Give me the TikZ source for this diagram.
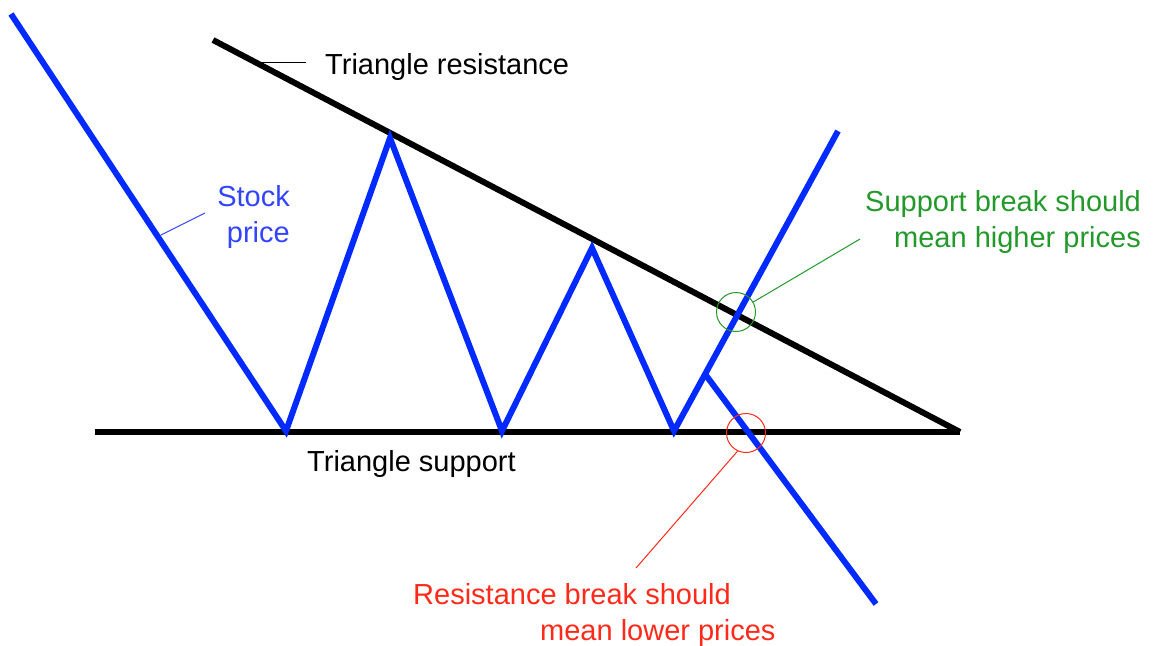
\documentclass[tikz,border=0pt]{standalone}
\usepackage{fontspec}
\setmainfont{Liberation Sans}
\begin{document}
\definecolor{priceblue}{RGB}{0,42,255}
\definecolor{textblue}{RGB}{51,68,255}
\definecolor{breakgreen}{RGB}{34,153,42}
\definecolor{breakred}{RGB}{255,42,26}
\tikzset{
  trendline/.style={line width=6pt, black},
  pricelinestyle/.style={line width=6pt, priceblue, line join=miter},
  leader/.style={line width=1pt},
  lbl/.style={inner sep=0pt, font=\fontsize{29}{36}\selectfont},
  ring/.style={circle, draw, line width=1pt, inner sep=0pt, minimum size=39pt},
}
\begin{tikzpicture}[x=1pt,y=-1pt]
\useasboundingbox (0,0) rectangle (1153,645);
% support and resistance
\coordinate (res0) at (213,40);
\coordinate (apex) at (960,432);
\coordinate (sup0) at (95,432);
\draw[trendline] (res0) -- (apex);
\draw[trendline] (sup0) -- (apex);
% price path
\coordinate (p0) at (11,14);
\coordinate (p1) at (286,431);
\coordinate (p2) at (390,138);
\coordinate (p3) at (502,431);
\coordinate (p4) at (592,248);
\coordinate (p5) at (674,431);
\coordinate (p6) at (838,131);
\coordinate (b0) at (705,374);
\coordinate (b1) at (876,604);
\draw[pricelinestyle] (p0) -- (p1) -- (p2) -- (p3) -- (p4) -- (p5) -- (p6);
\draw[pricelinestyle] (b0) -- (b1);
% labels
\node[lbl, anchor=base west] (resl) at (325,74) {Triangle resistance};
\coordinate (resfoot) at (255,62);
\coordinate (restip) at (306,62);
\draw[leader] (resfoot) -- (restip);
\node[lbl, anchor=base west] (supl) at (307,471) {Triangle support};
\node[lbl, anchor=base east, align=right, text=textblue] (stock) at (290,242) {Stock\\price};
\coordinate (stockfoot) at (161,235);
\coordinate (stocktip) at (205,213);
\draw[leader, textblue] (stockfoot) -- (stocktip);
% green break
\node[ring, draw=breakgreen] (gring) at (736,312) {};
\node[lbl, anchor=base west, align=left, text=breakgreen] (gl) at (865,247) {Support break should\\\hspace*{29pt}mean higher prices};
\coordinate (gtip) at (860,239);
\draw[leader, breakgreen] (gring.30) -- (gtip);
% red break
\node[ring, draw=breakred] (rring) at (746,433) {};
\node[lbl, anchor=base west, align=left, text=breakred] (rl) at (413,640) {Resistance break should\\\hspace*{127pt}mean lower prices};
\coordinate (rtip) at (636,568);
\draw[leader, breakred] (rring.245) -- (rtip);
\end{tikzpicture}
\end{document}
